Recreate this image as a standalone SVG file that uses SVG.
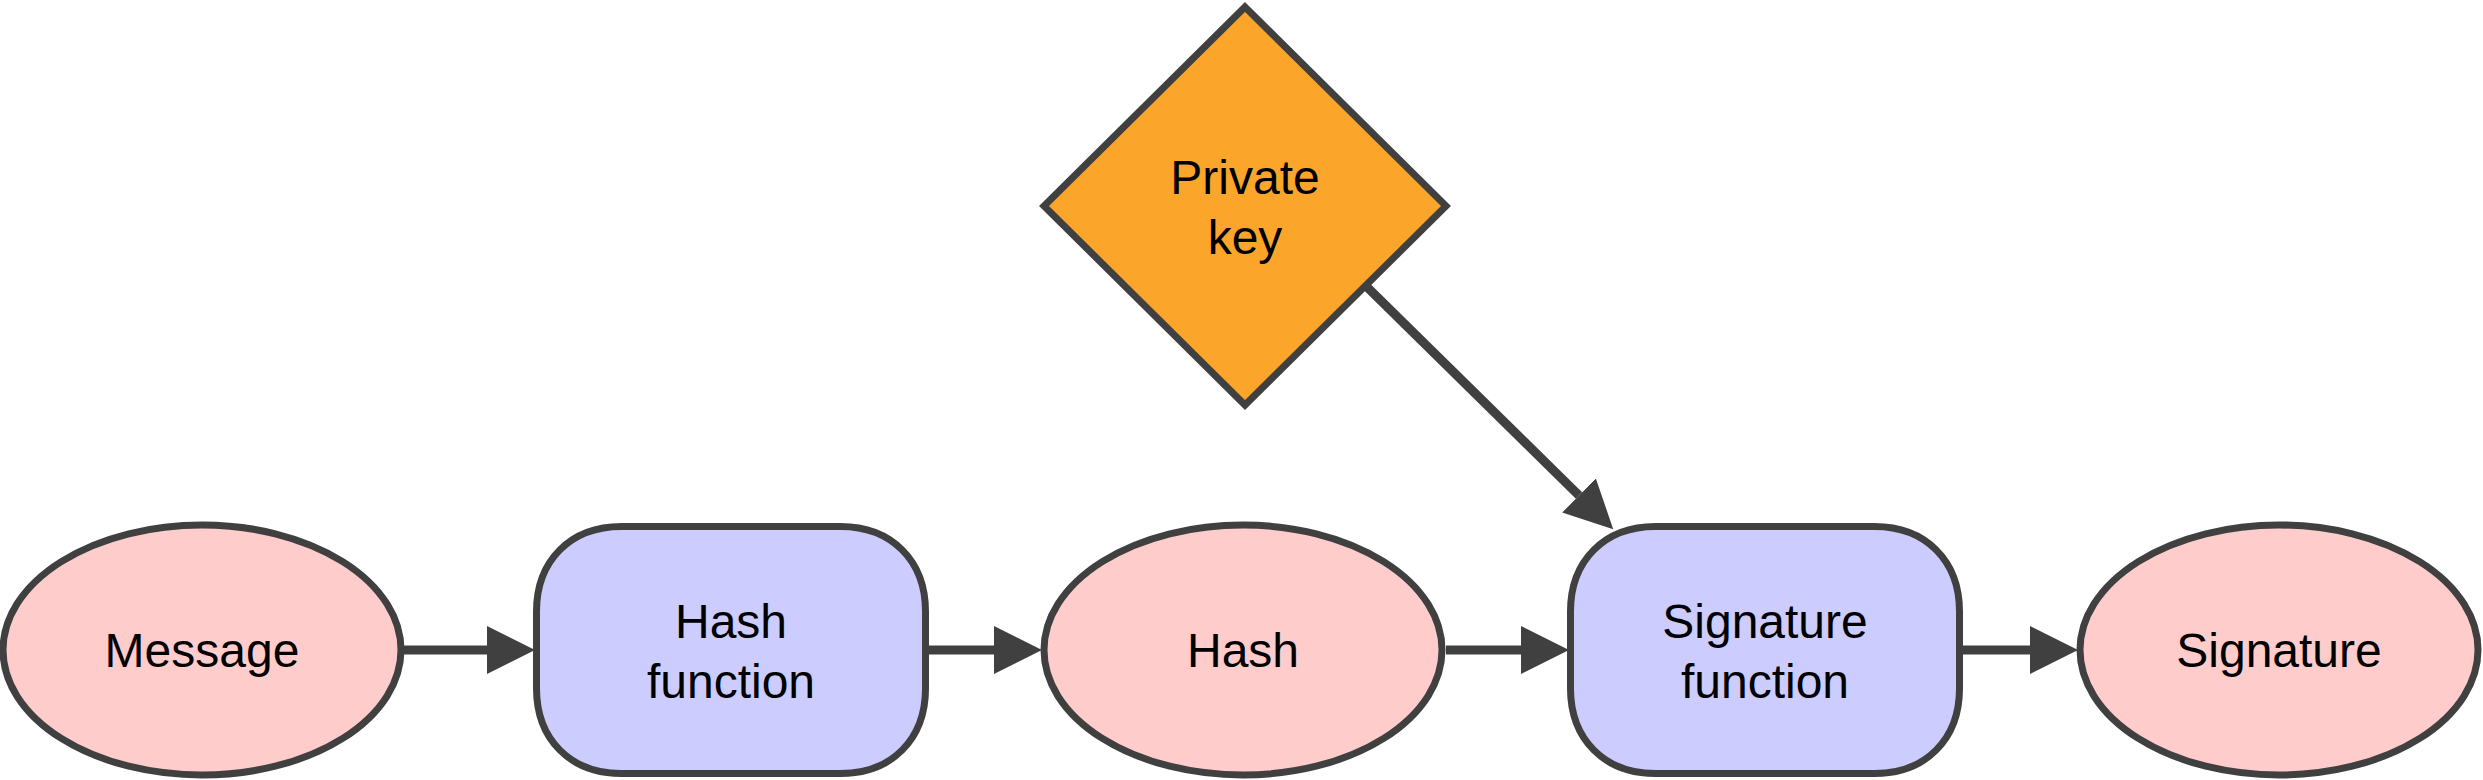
<svg xmlns="http://www.w3.org/2000/svg" width="2483" height="780" viewBox="0 0 2483 780">
  <style>
    .ell { fill: #FFCCCC; stroke: #404040; stroke-width: 7; }
    .box { fill: #CCCCFF; stroke: #404040; stroke-width: 7; }
    .dia { fill: #FBA52B; stroke: #404040; stroke-width: 7; stroke-linejoin: miter; }
    .lbl { font-family: "Liberation Sans", Arial, Helvetica, sans-serif; font-size: 48px; fill: #000000; text-anchor: middle; }
    .conn { fill: none; stroke: #404040; stroke-width: 9; marker-end: url(#arrow); }
  </style>
  <defs>
    <marker id="arrow" viewBox="0 0 48 48" refX="0" refY="24" markerWidth="48" markerHeight="48" markerUnits="userSpaceOnUse" orient="auto">
      <path d="M0,0 L48,24 L0,48 Z" fill="#404040"/>
    </marker>
  </defs>
  <rect width="2483" height="780" fill="#FFFFFF"/>
  <g id="connectors">
    <path class="conn" d="M404,650 H487"/>
    <path class="conn" d="M929,650 H994"/>
    <path class="conn" d="M1446,650 H1521"/>
    <path class="conn" d="M1963,650 H2030"/>
    <path class="conn" d="M1366,286 L1579,495.5"/>
  </g>
  <g id="message">
    <ellipse class="ell" cx="202" cy="650" rx="199" ry="125"/>
    <text class="lbl" x="202" y="667">Message</text>
  </g>
  <g id="hash-function">
    <path class="box" d="M621.5,526.5 H840.5 C891.5,526.5 925.5,560.5 925.5,611.5 V688.5 C925.5,739.5 891.5,773.5 840.5,773.5 H621.5 C570.5,773.5 536.5,739.5 536.5,688.5 V611.5 C536.5,560.5 570.5,526.5 621.5,526.5 Z"/>
    <text class="lbl" x="731" y="637.5">Hash</text>
    <text class="lbl" x="731" y="697.5">function</text>
  </g>
  <g id="hash">
    <ellipse class="ell" cx="1243" cy="650" rx="199" ry="125"/>
    <text class="lbl" x="1243" y="667">Hash</text>
  </g>
  <g id="private-key">
    <polygon class="dia" points="1245,7 1446,206 1245,405 1044,206"/>
    <text class="lbl" x="1245" y="193.5">Private</text>
    <text class="lbl" x="1245" y="253.5">key</text>
  </g>
  <g id="signature-function">
    <path class="box" d="M1655.5,526.5 H1874.5 C1925.5,526.5 1959.5,560.5 1959.5,611.5 V688.5 C1959.5,739.5 1925.5,773.5 1874.5,773.5 H1655.5 C1604.5,773.5 1570.5,739.5 1570.5,688.5 V611.5 C1570.5,560.5 1604.5,526.5 1655.5,526.5 Z"/>
    <text class="lbl" x="1765" y="637.5">Signature</text>
    <text class="lbl" x="1765" y="697.5">function</text>
  </g>
  <g id="signature">
    <ellipse class="ell" cx="2279" cy="650" rx="199" ry="125"/>
    <text class="lbl" x="2279" y="667">Signature</text>
  </g>
</svg>
